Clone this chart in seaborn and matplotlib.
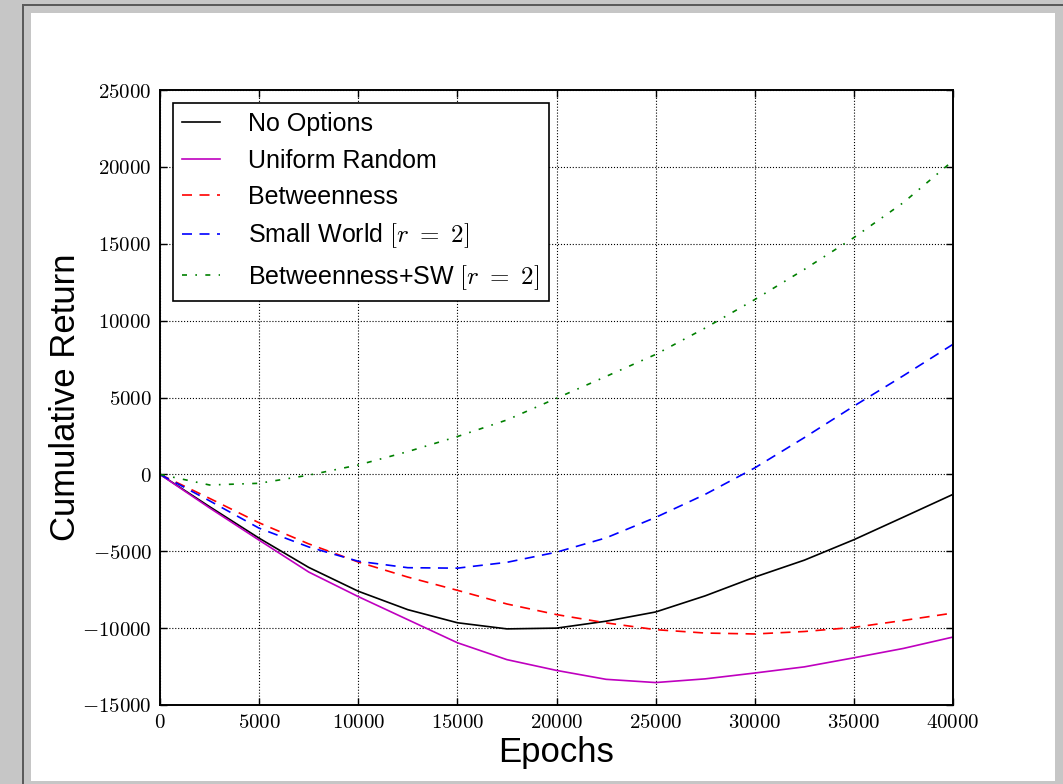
import matplotlib
matplotlib.use("Agg")
import matplotlib.pyplot as plt
from matplotlib.patches import Rectangle
import seaborn as sns

plt.rcParams["font.family"] = ["Liberation Sans", "DejaVu Sans"]
plt.rcParams["mathtext.fontset"] = "cm"

# 数据
epochs = [0, 2500, 5000, 7500, 10000, 12500, 15000, 17500, 20000,
          22500, 25000, 27500, 30000, 32500, 35000, 37500, 40000]
no_options = [0, -2100, -4150, -6050, -7600, -8800, -9650, -10050, -10000,
              -9550, -8950, -7900, -6680, -5580, -4250, -2780, -1300]
uniform_random = [0, -2180, -4280, -6350, -7950, -9450, -10950, -12050, -12750,
                  -13330, -13540, -13300, -12920, -12520, -11930, -11320, -10580]
betweenness = [0, -1560, -3150, -4520, -5700, -6680, -7540, -8430, -9120,
               -9660, -10100, -10320, -10380, -10220, -9950, -9500, -9020]
small_world = [0, -1720, -3500, -4720, -5650, -6070, -6100, -5720, -5060,
               -4130, -2800, -1300, 420, 2390, 4440, 6420, 8460]
betw_sw = [0, -690, -580, -50, 610, 1480, 2460, 3540, 4950,
           6370, 7800, 9520, 11370, 13330, 15400, 17680, 20400]

labels = ["No Options", "Uniform Random", "Betweenness",
          r"Small World $[r\ =\ 2]$", r"Betweenness+SW $[r\ =\ 2]$"]
series = [no_options, uniform_random, betweenness, small_world, betw_sw]
colors = ["k", "#bf00bf", "r", "b", "g"]
styles = ["-", "-", (0, (6, 4.5)), (0, (6, 4.5)), (0, (3, 5, 1, 5))]

fig = plt.figure(figsize=(10.63, 7.84), dpi=100)
fig.patch.set_facecolor("#c6c6c6")
W, H = 1063, 784
# window frame look
fig.patches.append(Rectangle((22 / W, 0), 2 / W, 1 - 4 / H, transform=fig.transFigure,
                             facecolor="#5a5a5a", edgecolor="none", zorder=-2))
fig.patches.append(Rectangle((22 / W, 1 - 6 / H), 1 - 22 / W, 2 / H, transform=fig.transFigure,
                             facecolor="#5a5a5a", edgecolor="none", zorder=-2))
fig.patches.append(Rectangle((31 / W, 3 / H), 1024 / W, 768 / H, transform=fig.transFigure,
                             facecolor="white", edgecolor="none", zorder=-1))

ax = fig.add_axes([160 / W, 1 - 705 / H, 793 / W, 615 / H])

for vals, lab, c, ls in zip(series, labels, colors, styles):
    sns.lineplot(x=epochs, y=vals, color=c, linestyle=ls, linewidth=1.2,
                 label=lab, ax=ax)

ax.set_xlim(0, 40000)
ax.set_ylim(-15000, 25000)
xt = list(range(0, 40001, 5000))
yt = list(range(-15000, 25001, 5000))
ax.set_xticks(xt)
ax.set_yticks(yt)
ax.set_xticklabels([r"$%d$" % v for v in xt], fontsize=15)
ax.set_yticklabels([r"$%d$" % v for v in yt], fontsize=15)
ax.tick_params(direction="in", length=5, width=1, top=True, right=True)
ax.tick_params(axis="x", pad=6)
ax.tick_params(axis="y", pad=6)
for s in ax.spines.values():
    s.set_linewidth(1.4)
ax.grid(True, color="k", linestyle=":", linewidth=0.8)

ax.set_xlabel("Epochs", fontsize=25)
ax.set_ylabel("Cumulative Return", fontsize=25)
ax.xaxis.set_label_coords(0.5, -0.05)
ax.yaxis.set_label_coords(-0.098, 0.5)

leg = ax.legend(loc="upper left", fontsize=18, handlelength=1.5, handletextpad=1.15,
                labelspacing=0.5, borderaxespad=0.5, borderpad=0.38,
                fancybox=False, framealpha=1)
leg.get_frame().set_edgecolor("k")
leg.get_frame().set_linewidth(1.2)

fig.savefig("out.png", dpi=100, facecolor=fig.get_facecolor())
